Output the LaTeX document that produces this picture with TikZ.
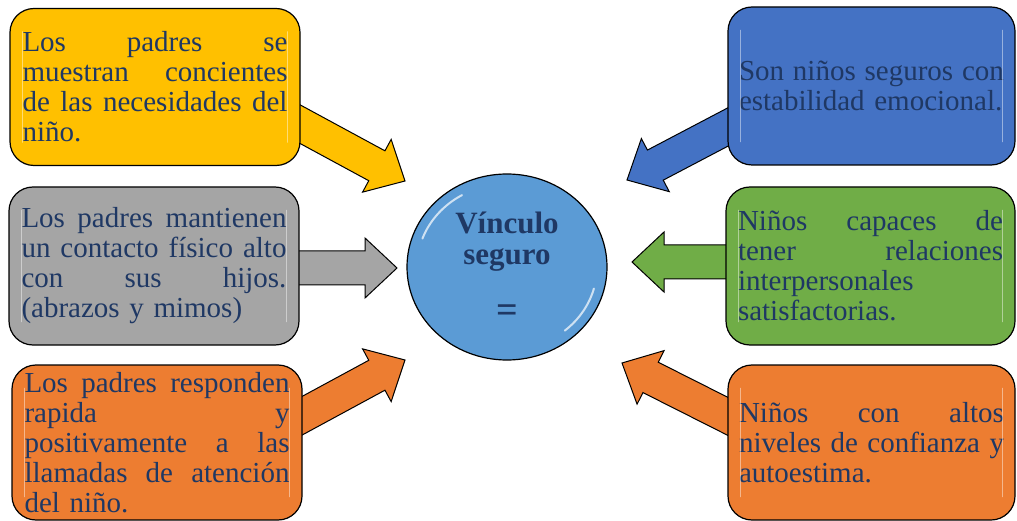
\documentclass[tikz,border=0pt]{standalone}
\usepackage{fontspec}
\setmainfont{Liberation Serif}
\usetikzlibrary{calc,shapes.geometric}
\definecolor{cyel}{RGB}{255,192,0}
\definecolor{cgray}{RGB}{165,165,165}
\definecolor{corange}{RGB}{237,125,49}
\definecolor{cblue}{RGB}{68,114,196}
\definecolor{cgreen}{RGB}{112,173,71}
\definecolor{ccirc}{RGB}{91,155,213}
\definecolor{ctext}{RGB}{31,56,100}
\newcommand\jl[1]{\leavevmode\hbox to 265pt{#1}}
\newcommand\blockarrow[3]{%
  \coordinate (h-#1) at ($(#2)!32pt!(#1)$);
  \draw[arrowline, fill=#3] ($(#1)!17pt!90:(#2)$) -- ($(h-#1)!17pt!90:(#2)$)
    -- ($(h-#1)!30pt!90:(#2)$) -- (#2) -- ($(h-#1)!30pt!-90:(#2)$)
    -- ($(h-#1)!17pt!-90:(#2)$) -- ($(#1)!17pt!-90:(#2)$) -- cycle;}
\newcommand\glossbox[1]{%
  \draw[gloss] ($(#1.north west)+(13,24)$) -- ($(#1.south west)+(13,-24)$);
  \draw[gloss] ($(#1.north east)+(-13,24)$) -- ($(#1.south east)+(-13,-24)$);}
\begin{document}
\begin{tikzpicture}[x=1pt,y=-1pt,
  box/.style={draw=black, line width=1.2pt, rounded corners=24pt,
    minimum width=290pt, minimum height=157pt, inner sep=0pt,
    text width=265pt, align=left, font=\fontsize{29}{30}\selectfont, text=ctext},
  arrowline/.style={draw=black, line width=1pt, line join=miter},
  gloss/.style={white, line width=1.5pt, opacity=.45, line cap=round}]
\useasboundingbox (0,0) rectangle (1017,521);

% connector end points
\coordinate (t1) at (285,116); \coordinate (p1) at (405,181);
\coordinate (t2) at (285,268); \coordinate (p2) at (397,268);
\coordinate (t3) at (285,425); \coordinate (p3) at (405,360);
\coordinate (t4) at (745,118); \coordinate (p4) at (627,180);
\coordinate (t5) at (745,262); \coordinate (p5) at (632,262);
\coordinate (t6) at (745,425); \coordinate (p6) at (622,363);

\blockarrow{t1}{p1}{cyel}
\blockarrow{t2}{p2}{cgray}
\blockarrow{t3}{p3}{corange}
\blockarrow{t4}{p4}{cblue}
\blockarrow{t5}{p5}{cgreen}
\blockarrow{t6}{p6}{corange}

\node[box, fill=cyel] (b1) at (155,87)
  {\jl{Los\hfill padres\hfill se}\\\jl{muestran\hfill concientes}\\\jl{de\hfill las\hfill necesidades\hfill del}\\niño.};
\node[box, fill=cgray, minimum height=158pt] (b2) at (154,266)
  {\jl{Los\hfill padres\hfill mantienen}\\\jl{un\hfill contacto\hfill físico\hfill alto}\\\jl{con\hfill sus\hfill hijos.}\\(abrazos y mimos)};
\node[box, fill=corange, minimum height=155pt] (b3) at (157,442.5)
  {\jl{Los\hfill padres\hfill responden}\\\jl{rapida\hfill y}\\\jl{positivamente\hfill a\hfill las}\\\jl{llamadas\hfill de\hfill atención}\\del niño.};
\node[box, fill=cblue, minimum width=287pt, minimum height=158pt] (b4) at (871.5,86)
  {\jl{Son\hfill niños\hfill seguros\hfill con}\\estabilidad emocional.};
\node[box, fill=cgreen, minimum width=289pt, minimum height=158pt] (b5) at (870.5,266)
  {\jl{Niños\hfill capaces\hfill de}\\\jl{tener\hfill relaciones}\\interpersonales\\satisfactorias.};
\node[box, fill=corange, minimum width=287pt, minimum height=155pt] (b6) at (871.5,442.5)
  {\jl{Niños\hfill con\hfill altos}\\\jl{niveles\hfill de\hfill confianza\hfill y}\\autoestima.};

\glossbox{b1}\glossbox{b2}\glossbox{b3}\glossbox{b4}\glossbox{b5}\glossbox{b6}

\node[draw=black, line width=1.2pt, fill=ccirc, ellipse, minimum width=200pt,
  minimum height=186pt, inner sep=0pt, align=center, text=ctext,
  font=\bfseries\fontsize{31}{31}\selectfont] (c) at (507,267)
  {Vínculo\\seguro\\[27pt]{\fontsize{38}{38}\selectfont =}};
\draw[gloss, opacity=.7, line width=2pt] ($(c.center)+(200:90 and 83)$)
  arc[start angle=200, end angle=240, x radius=90, y radius=83];
\draw[gloss, opacity=.7, line width=2pt] ($(c.center)+(15:90 and 83)$)
  arc[start angle=15, end angle=50, x radius=90, y radius=83];
\end{tikzpicture}
\end{document}
